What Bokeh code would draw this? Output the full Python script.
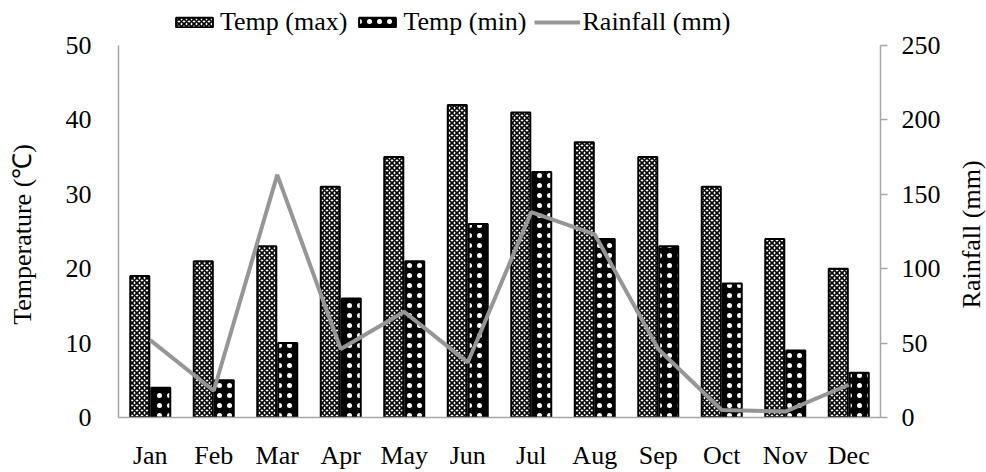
from bokeh.plotting import figure
from bokeh.layouts import row
from bokeh.models import (FactorRange, Range1d, LinearAxis, Legend, LegendItem,
                          ColumnDataSource, FixedTicker, Label)
from bokeh.transform import dodge
from bokeh.embed import file_html
from bokeh.resources import INLINE

months = ["Jan", "Feb", "Mar", "Apr", "May", "Jun", "Jul", "Aug", "Sep", "Oct", "Nov", "Dec"]
temp_max = [19, 21, 23, 31, 35, 42, 41, 37, 35, 31, 24, 20]
temp_min = [4, 5, 10, 16, 21, 26, 33, 24, 23, 18, 9, 6]
rainfall = [52, 18, 163, 46, 71, 37, 138, 123, 46, 5, 4, 22]
temp_ticks = [0, 10, 20, 30, 40, 50]
rain_ticks = [0, 50, 100, 150, 200, 250]
series_labels = ["Temp (max)", "Temp (min)", "Rainfall (mm)"]
y_titles = ["Temperature (\u2103)", "Rainfall (mm)"]

FONT = "Liberation Serif"
FS = "26px"
AXIS_GRAY = "#a6a6a6"
RAIN_GRAY = "#969696"

W, H = 986, 472
LEFT_T_W, RIGHT_T_W = 44, 30
MAIN_W = W - LEFT_T_W - RIGHT_T_W
BOTTOM = 45
# the frame reaches the top of the canvas; the axes stop at 50 / 250, the legend sits above
TOP_ROOM = (H - BOTTOM) / 381.0

src = ColumnDataSource(dict(month=months, tmax=temp_max, tmin=temp_min, rain=rainfall))

# ---------------- main chart ----------------
p = figure(width=MAIN_W, height=H, x_range=FactorRange(*months),
           y_range=Range1d(temp_ticks[0], temp_ticks[-1] * TOP_ROOM),
           output_backend="svg", toolbar_location=None,
           min_border_left=118 - LEFT_T_W, min_border_right=MAIN_W + LEFT_T_W - 880,
           min_border_top=0, min_border_bottom=BOTTOM)
p.extra_y_ranges = {"rain": Range1d(rain_ticks[0], rain_ticks[-1] * TOP_ROOM)}

p.outline_line_color = None
p.xgrid.grid_line_color = None
p.ygrid.grid_line_color = None
p.background_fill_color = "white"
p.border_fill_color = "white"

r_max = p.vbar(x=dodge("month", -0.165, range=p.x_range), top="tmax", width=0.3, source=src,
               fill_color="white", line_color="black", line_width=2,
               hatch_pattern="diagonal_cross", hatch_color="black", hatch_scale=5, hatch_weight=1.6)
r_min = p.vbar(x=dodge("month", 0.165, range=p.x_range), top="tmin", width=0.3, source=src,
               fill_color="black", line_color="black", line_width=2,
               hatch_pattern="dot", hatch_color="white", hatch_scale=10, hatch_weight=1)
r_rain = p.line(x="month", y="rain", source=src, y_range_name="rain",
                line_color=RAIN_GRAY, line_width=4)

ya = p.yaxis[0]
ya.ticker = FixedTicker(ticks=temp_ticks)
ya.bounds = (temp_ticks[0], temp_ticks[-1])
ya.major_tick_line_color = None
ya.minor_tick_line_color = None
ya.major_label_standoff = 21
ya.axis_line_color = AXIS_GRAY
ya.axis_line_width = 1.5

xa = p.xaxis[0]
xa.major_tick_line_color = None
xa.minor_tick_line_color = None
xa.major_label_standoff = 17
xa.axis_line_color = AXIS_GRAY
xa.axis_line_width = 1.5

ra = LinearAxis(y_range_name="rain", ticker=FixedTicker(ticks=rain_ticks))
ra.bounds = (rain_ticks[0], rain_ticks[-1])
ra.major_tick_out = 7
ra.major_tick_in = 0
ra.major_tick_line_color = AXIS_GRAY
ra.major_tick_line_width = 1.5
ra.minor_tick_line_color = None
ra.major_label_standoff = 14
ra.axis_line_color = AXIS_GRAY
ra.axis_line_width = 1.5
p.add_layout(ra, "right")

for ax in (ya, xa, ra):
    ax.major_label_text_font = FONT
    ax.major_label_text_font_size = FS
    ax.major_label_text_color = "black"

legend = Legend(items=[LegendItem(label=series_labels[0], renderers=[r_max]),
                       LegendItem(label=series_labels[1], renderers=[r_min]),
                       LegendItem(label=series_labels[2], renderers=[r_rain])],
                orientation="horizontal", location=(53, 380),
                glyph_width=46, glyph_height=12, label_standoff=3, spacing=7,
                padding=0, margin=0, border_line_color=None, background_fill_alpha=0,
                label_text_font=FONT, label_text_font_size=FS, label_text_color="black")
p.add_layout(legend, "center")

# ---------------- axis titles (both read bottom to top) ----------------
def title_strip(width, text):
    f = figure(width=width, height=H, x_range=Range1d(0, 1), y_range=p.y_range,
               output_backend="svg", toolbar_location=None,
               x_axis_location=None, y_axis_location=None,
               min_border_left=0, min_border_right=0, min_border_top=0, min_border_bottom=BOTTOM)
    f.outline_line_color = None
    f.grid.visible = False
    f.border_fill_color = "white"
    f.background_fill_color = "white"
    f.add_layout(Label(x=0.5, y=(temp_ticks[0] + temp_ticks[-1]) / 2 - 0.4, text=text,
                       angle=1.5707963, text_align="center", text_baseline="middle",
                       text_font=FONT, text_font_size=FS, text_color="black"))
    return f

lt = title_strip(LEFT_T_W, y_titles[0])
rt = title_strip(RIGHT_T_W, y_titles[1])

layout = row(lt, p, rt, spacing=0)
open("out.html", "w").write(file_html(layout, INLINE))
